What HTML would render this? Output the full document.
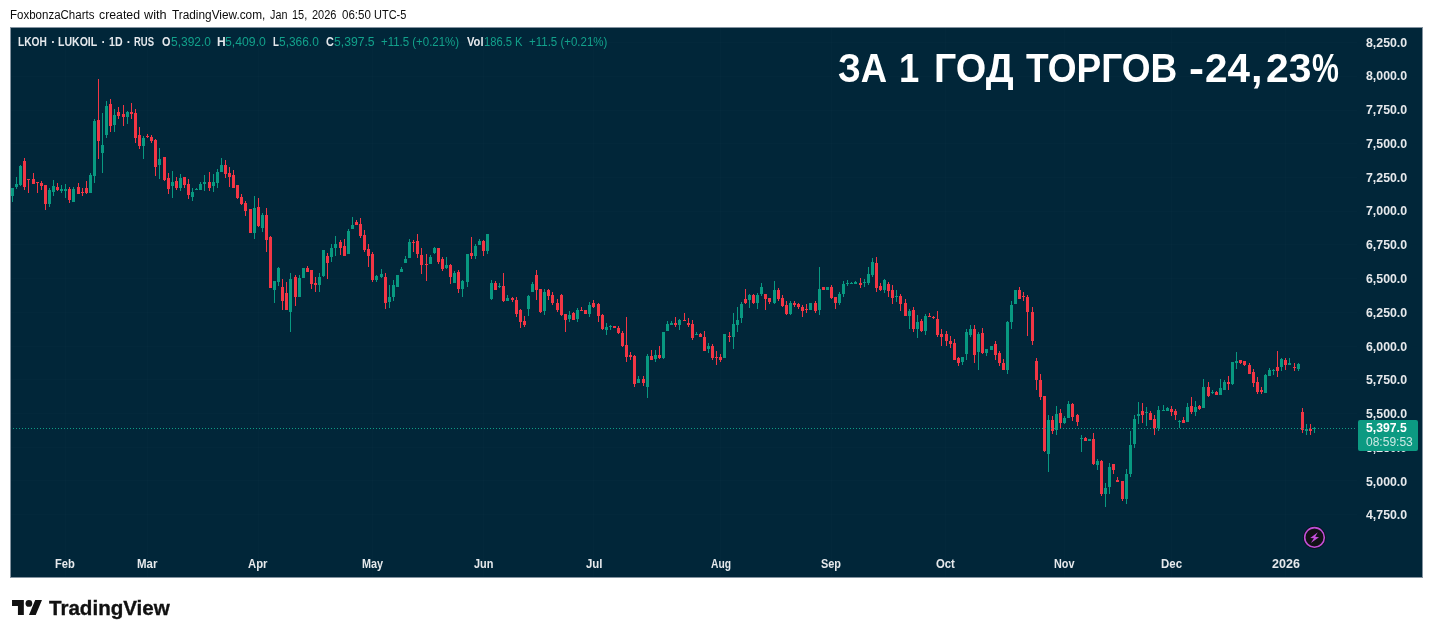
<!DOCTYPE html>
<html lang="en">
<head>
<meta charset="utf-8">
<title>LKOH chart</title>
<style>
html,body{margin:0;padding:0;background:#fff;}
body{width:1433px;height:638px;position:relative;overflow:hidden;font-family:"Liberation Sans",sans-serif;}
.t{position:absolute;white-space:nowrap;line-height:1;transform-origin:0 0;}
.hd{font-size:12px;color:#0c0c0c;}
#chart{position:absolute;left:10px;top:27px;width:1413px;height:551px;box-sizing:border-box;background:#012639;border:1px solid #8493a0;}
#chart svg{position:absolute;left:-1px;top:-1px;}
.w{font-size:12px;color:#e4e8ec;font-weight:bold;}
.g{font-size:12px;color:#12a18b;}
.ax{font-size:12px;font-weight:bold;color:#e6e9ec;}
.ti{font-size:41.4px;font-weight:bold;color:#fff;}
.pl1{font-size:12px;font-weight:bold;color:#fff;z-index:3;}
.pl2{font-size:12px;color:rgba(255,255,255,.78);z-index:3;}
.lt{font-size:20.4px;font-weight:bold;color:#111;-webkit-text-stroke:0.35px #111;}
#plabel{position:absolute;z-index:2;left:1358px;top:420px;width:60px;height:31px;background:#0c9a82;border-radius:2px;}
#logo{position:absolute;left:12px;top:600px;}
</style>
</head>
<body>
<div id="chart">
<svg width="1413" height="551" viewBox="0 0 1413 551" shape-rendering="crispEdges">
<g id="grid" fill="#ffffff" fill-opacity="0.012">
<rect x="55" y="1" width="1" height="549"/><rect x="137" y="1" width="1" height="549"/><rect x="248" y="1" width="1" height="549"/><rect x="362" y="1" width="1" height="549"/><rect x="473" y="1" width="1" height="549"/><rect x="583" y="1" width="1" height="549"/><rect x="710" y="1" width="1" height="549"/><rect x="821" y="1" width="1" height="549"/><rect x="935" y="1" width="1" height="549"/><rect x="1054" y="1" width="1" height="549"/><rect x="1161" y="1" width="1" height="549"/><rect x="1275" y="1" width="1" height="549"/><rect x="1" y="15" width="1346" height="1"/><rect x="1" y="49" width="1346" height="1"/><rect x="1" y="83" width="1346" height="1"/><rect x="1" y="116" width="1346" height="1"/><rect x="1" y="150" width="1346" height="1"/><rect x="1" y="184" width="1346" height="1"/><rect x="1" y="217" width="1346" height="1"/><rect x="1" y="251" width="1346" height="1"/><rect x="1" y="285" width="1346" height="1"/><rect x="1" y="319" width="1346" height="1"/><rect x="1" y="352" width="1346" height="1"/><rect x="1" y="386" width="1346" height="1"/><rect x="1" y="420" width="1346" height="1"/><rect x="1" y="453" width="1346" height="1"/><rect x="1" y="487" width="1346" height="1"/>
</g>
<path fill="#089981" d="M2 161h1v14h-1zM1 161h3v8h-3zM6 150h1v12h-1zM5 157h3v3h-3zM10 138h1v21h-1zM9 139h3v19h-3zM39 161h1v19h-1zM38 163h3v14h-3zM43 153h1v16h-1zM42 159h3v6h-3zM51 158h1v8h-1zM50 162h3v2h-3zM55 157h1v14h-1zM54 162h3v2h-3zM63 160h1v15h-1zM62 162h3v13h-3zM80 146h1v20h-1zM79 148h3v18h-3zM84 92h1v64h-1zM83 94h3v55h-3zM92 86h1v60h-1zM91 118h3v8h-3zM96 74h1v37h-1zM95 79h3v29h-3zM104 82h1v23h-1zM103 88h3v10h-3zM117 84h1v13h-1zM116 85h3v5h-3zM133 109h1v23h-1zM132 111h3v8h-3zM149 121h1v31h-1zM148 132h3v6h-3zM162 144h1v27h-1zM161 155h3v4h-3zM170 147h1v17h-1zM169 151h3v10h-3zM182 161h1v13h-1zM181 165h3v5h-3zM186 161h1v2h-1zM185 162h3v1h-3zM190 155h1v8h-1zM189 157h3v6h-3zM194 148h1v16h-1zM193 155h3v2h-3zM203 147h1v18h-1zM202 155h3v4h-3zM207 142h1v19h-1zM206 145h3v11h-3zM211 131h1v14h-1zM210 138h3v7h-3zM244 169h1v43h-1zM243 181h3v25h-3zM252 186h1v19h-1zM251 188h3v13h-3zM264 254h1v22h-1zM263 254h3v9h-3zM268 240h1v19h-1zM267 241h3v14h-3zM280 246h1v59h-1zM279 252h3v33h-3zM289 248h1v22h-1zM288 251h3v19h-3zM292 241h3v10h-3zM309 246h1v19h-1zM308 250h3v8h-3zM313 223h1v27h-1zM312 223h3v26h-3zM321 217h1v18h-1zM320 221h3v9h-3zM325 209h1v20h-1zM324 217h3v4h-3zM338 202h1v25h-1zM337 204h3v23h-3zM342 190h1v12h-1zM341 198h3v4h-3zM366 248h1v7h-1zM365 249h3v4h-3zM371 242h1v9h-1zM370 247h3v3h-3zM379 258h1v23h-1zM378 270h3v5h-3zM383 253h1v21h-1zM382 258h3v12h-3zM386 248h3v12h-3zM391 240h1v5h-1zM390 242h3v3h-3zM395 229h1v7h-1zM394 232h3v4h-3zM399 212h1v19h-1zM398 215h3v16h-3zM420 228h1v9h-1zM419 230h3v7h-3zM424 220h1v7h-1zM423 221h3v5h-3zM436 230h1v12h-1zM435 238h3v3h-3zM444 244h1v12h-1zM443 246h3v10h-3zM452 253h1v17h-1zM451 254h3v8h-3zM457 227h1v33h-1zM456 227h3v28h-3zM465 217h1v15h-1zM464 219h3v10h-3zM469 212h1v6h-1zM468 214h3v4h-3zM477 207h1v20h-1zM476 207h3v17h-3zM481 253h1v20h-1zM480 256h3v16h-3zM489 256h1v5h-1zM488 259h3v1h-3zM497 268h1v6h-1zM496 271h3v3h-3zM518 268h1v21h-1zM517 269h3v13h-3zM522 255h1v10h-1zM521 257h3v8h-3zM534 262h1v26h-1zM533 265h3v19h-3zM559 284h1v11h-1zM558 288h3v4h-3zM567 281h1v14h-1zM566 283h3v9h-3zM579 275h1v15h-1zM578 278h3v9h-3zM596 296h1v12h-1zM595 300h3v3h-3zM600 298h1v5h-1zM599 299h3v1h-3zM628 349h1v7h-1zM627 352h3v4h-3zM637 327h1v44h-1zM636 329h3v31h-3zM645 323h1v12h-1zM644 328h3v4h-3zM653 305h1v27h-1zM652 305h3v26h-3zM657 294h1v10h-1zM656 297h3v7h-3zM661 294h1v4h-1zM660 296h3v2h-3zM669 292h1v11h-1zM668 293h3v5h-3zM686 305h1v3h-1zM685 307h3v1h-3zM698 316h1v10h-1zM697 319h3v3h-3zM713 307h3v24h-3zM723 286h1v36h-1zM722 297h3v13h-3zM727 280h1v25h-1zM726 293h3v5h-3zM731 275h1v21h-1zM730 277h3v14h-3zM739 267h1v14h-1zM738 268h3v5h-3zM747 266h1v16h-1zM746 268h3v8h-3zM751 256h1v13h-1zM750 260h3v7h-3zM764 254h1v23h-1zM763 263h3v13h-3zM780 274h1v14h-1zM779 276h3v11h-3zM799 276h3v7h-3zM809 240h1v48h-1zM808 262h3v21h-3zM816 260h3v3h-3zM829 265h1v13h-1zM828 267h3v9h-3zM833 254h1v16h-1zM832 257h3v10h-3zM837 253h1v6h-1zM836 256h3v1h-3zM841 255h1v2h-1zM840 256h3v1h-3zM845 254h1v3h-1zM844 255h3v2h-3zM854 252h1v8h-1zM853 255h3v1h-3zM858 240h1v18h-1zM857 247h3v9h-3zM862 231h1v19h-1zM861 235h3v13h-3zM874 252h1v14h-1zM873 253h3v10h-3zM886 263h1v12h-1zM885 269h3v1h-3zM899 282h1v20h-1zM898 284h3v5h-3zM907 288h1v23h-1zM906 295h3v7h-3zM915 287h1v21h-1zM914 289h3v15h-3zM952 330h1v8h-1zM951 330h3v5h-3zM956 302h1v31h-1zM955 305h3v22h-3zM960 298h1v12h-1zM959 302h3v6h-3zM968 305h1v38h-1zM967 307h3v18h-3zM976 322h1v7h-1zM975 322h3v4h-3zM980 319h3v4h-3zM997 294h1v53h-1zM996 295h3v48h-3zM1001 274h1v28h-1zM1000 278h3v17h-3zM1004 263h3v14h-3zM1038 388h1v57h-1zM1037 393h3v34h-3zM1046 379h1v29h-1zM1045 387h3v16h-3zM1054 389h1v8h-1zM1053 391h3v5h-3zM1058 374h1v17h-1zM1057 377h3v14h-3zM1071 408h1v17h-1zM1070 411h3v1h-3zM1078 412h3v2h-3zM1087 432h1v11h-1zM1086 434h3v4h-3zM1095 456h1v24h-1zM1094 461h3v6h-3zM1099 436h1v31h-1zM1098 440h3v20h-3zM1116 442h1v35h-1zM1115 447h3v25h-3zM1120 404h1v46h-1zM1119 418h3v29h-3zM1124 388h1v33h-1zM1123 392h3v25h-3zM1128 375h1v22h-1zM1127 387h3v2h-3zM1136 380h1v19h-1zM1135 385h3v1h-3zM1148 379h1v25h-1zM1147 383h3v18h-3zM1153 378h1v6h-1zM1152 383h3v1h-3zM1157 380h1v4h-1zM1156 381h3v3h-3zM1169 393h1v8h-1zM1168 394h3v1h-3zM1177 376h1v19h-1zM1176 380h3v15h-3zM1185 374h1v15h-1zM1184 380h3v5h-3zM1193 352h1v29h-1zM1192 360h3v21h-3zM1202 363h1v4h-1zM1201 365h3v1h-3zM1210 352h1v16h-1zM1209 361h3v7h-3zM1214 353h1v10h-1zM1213 355h3v8h-3zM1222 335h1v23h-1zM1221 335h3v22h-3zM1226 325h1v17h-1zM1225 334h3v2h-3zM1255 347h1v19h-1zM1254 348h3v18h-3zM1259 341h1v8h-1zM1258 343h3v6h-3zM1263 342h1v6h-1zM1262 343h3v1h-3zM1271 331h1v13h-1zM1270 332h3v8h-3zM1279 331h1v7h-1zM1278 336h3v2h-3zM1288 336h1v8h-1zM1287 337h3v5h-3zM1296 397h1v11h-1zM1295 402h3v2h-3zM1304 400h1v6h-1zM1303 401h3v1h-3z"/><path fill="#f23645" d="M14 131h1v32h-1zM13 134h3v26h-3zM18 152h1v14h-1zM17 152h3v1h-3zM23 146h1v11h-1zM22 152h3v5h-3zM27 155h1v11h-1zM26 155h3v1h-3zM31 154h1v9h-1zM30 156h3v3h-3zM35 158h1v25h-1zM34 158h3v19h-3zM47 156h1v8h-1zM46 160h3v3h-3zM59 160h1v16h-1zM58 162h3v11h-3zM68 156h1v11h-1zM67 160h3v7h-3zM72 161h1v8h-1zM71 165h3v1h-3zM76 154h1v13h-1zM75 161h3v5h-3zM88 52h1v80h-1zM87 93h3v21h-3zM100 72h1v33h-1zM99 77h3v22h-3zM108 80h1v12h-1zM107 85h3v4h-3zM113 78h1v21h-1zM112 87h3v3h-3zM121 76h1v16h-1zM120 85h3v2h-3zM125 82h1v34h-1zM124 86h3v25h-3zM129 100h1v22h-1zM128 108h3v11h-3zM137 107h1v4h-1zM136 109h3v1h-3zM141 108h1v8h-1zM140 110h3v4h-3zM145 112h1v37h-1zM144 113h3v27h-3zM154 130h1v24h-1zM153 130h3v23h-3zM158 146h1v21h-1zM157 151h3v11h-3zM166 150h1v13h-1zM165 154h3v7h-3zM174 150h1v11h-1zM173 150h3v8h-3zM178 152h1v20h-1zM177 157h3v11h-3zM199 145h1v19h-1zM198 155h3v6h-3zM215 133h1v18h-1zM214 138h3v9h-3zM219 140h1v20h-1zM218 146h3v4h-3zM223 143h1v18h-1zM222 148h3v13h-3zM227 158h1v14h-1zM226 158h3v13h-3zM231 167h1v11h-1zM230 170h3v7h-3zM235 174h1v15h-1zM234 176h3v8h-3zM239 182h3v24h-3zM248 171h1v29h-1zM247 180h3v19h-3zM256 181h1v44h-1zM255 188h3v25h-3zM260 209h1v52h-1zM259 210h3v51h-3zM272 252h1v31h-1zM271 260h3v14h-3zM276 255h1v28h-1zM275 266h3v17h-3zM285 248h1v31h-1zM284 250h3v20h-3zM297 239h1v6h-1zM296 241h3v4h-3zM301 243h1v19h-1zM300 243h3v14h-3zM305 250h1v15h-1zM304 256h3v2h-3zM317 226h1v26h-1zM316 229h3v7h-3zM330 213h1v15h-1zM329 215h3v6h-3zM334 212h1v17h-1zM333 219h3v10h-3zM346 193h1v5h-1zM345 195h3v3h-3zM350 191h1v20h-1zM349 197h3v12h-3zM354 203h1v22h-1zM353 208h3v15h-3zM358 217h1v23h-1zM357 222h3v7h-3zM362 225h1v30h-1zM361 227h3v26h-3zM375 246h1v36h-1zM374 250h3v26h-3zM403 213h1v12h-1zM402 215h3v1h-3zM407 207h1v24h-1zM406 214h3v13h-3zM411 221h1v26h-1zM410 228h3v10h-3zM416 227h1v27h-1zM415 237h3v1h-3zM428 221h1v16h-1zM427 221h3v14h-3zM432 230h1v14h-1zM431 232h3v10h-3zM440 237h1v20h-1zM439 238h3v12h-3zM448 243h1v23h-1zM447 245h3v17h-3zM461 210h1v22h-1zM460 226h3v3h-3zM473 213h1v16h-1zM472 214h3v10h-3zM485 254h1v9h-1zM484 256h3v7h-3zM493 246h1v29h-1zM492 259h3v15h-3zM502 270h1v5h-1zM501 271h3v2h-3zM506 270h1v20h-1zM505 273h3v14h-3zM510 282h1v19h-1zM509 283h3v12h-3zM514 289h1v11h-1zM513 294h3v4h-3zM526 243h1v30h-1zM525 248h3v15h-3zM530 262h1v24h-1zM529 262h3v23h-3zM538 262h1v11h-1zM537 263h3v6h-3zM542 265h1v13h-1zM541 268h3v8h-3zM547 272h1v13h-1zM546 276h3v7h-3zM551 267h1v22h-1zM550 268h3v20h-3zM555 287h1v18h-1zM554 287h3v6h-3zM563 285h1v8h-1zM562 286h3v7h-3zM571 280h1v4h-1zM570 283h3v1h-3zM574 283h3v4h-3zM583 273h1v8h-1zM582 276h3v4h-3zM588 276h1v19h-1zM587 277h3v12h-3zM592 287h1v16h-1zM591 288h3v14h-3zM603 299h3v2h-3zM608 299h1v8h-1zM607 301h3v5h-3zM612 304h1v16h-1zM611 306h3v13h-3zM616 290h1v45h-1zM615 318h3v12h-3zM620 325h1v8h-1zM619 328h3v2h-3zM624 328h1v32h-1zM623 329h3v28h-3zM633 349h1v10h-1zM632 352h3v4h-3zM641 323h1v10h-1zM640 329h3v4h-3zM649 319h1v13h-1zM648 328h3v3h-3zM665 290h1v10h-1zM664 296h3v2h-3zM674 286h1v8h-1zM673 293h3v1h-3zM678 291h1v9h-1zM677 296h3v2h-3zM682 293h1v20h-1zM681 297h3v14h-3zM690 306h1v4h-1zM689 307h3v3h-3zM694 304h1v20h-1zM693 310h3v14h-3zM702 317h1v16h-1zM701 319h3v12h-3zM706 324h1v14h-1zM705 330h3v1h-3zM710 327h1v8h-1zM709 330h3v3h-3zM719 305h1v10h-1zM718 309h3v1h-3zM735 262h1v15h-1zM734 272h3v4h-3zM743 267h1v10h-1zM742 268h3v8h-3zM755 267h1v16h-1zM754 267h3v5h-3zM759 271h1v6h-1zM758 271h3v4h-3zM768 261h1v13h-1zM767 263h3v9h-3zM772 268h1v12h-1zM771 271h3v8h-3zM776 274h1v14h-1zM775 278h3v9h-3zM784 274h1v6h-1zM783 276h3v2h-3zM788 276h1v6h-1zM787 277h3v3h-3zM792 278h1v12h-1zM791 280h3v4h-3zM796 277h1v9h-1zM795 282h3v1h-3zM805 274h1v12h-1zM804 276h3v8h-3zM812 260h3v3h-3zM821 258h1v14h-1zM820 260h3v11h-3zM825 270h1v12h-1zM824 270h3v6h-3zM850 251h1v10h-1zM849 256h3v2h-3zM866 230h1v35h-1zM865 236h3v25h-3zM870 256h1v8h-1zM869 259h3v4h-3zM878 255h1v15h-1zM877 257h3v7h-3zM882 258h1v19h-1zM881 263h3v8h-3zM890 267h1v17h-1zM889 269h3v8h-3zM895 272h1v17h-1zM894 276h3v13h-3zM903 280h1v25h-1zM902 283h3v19h-3zM911 292h1v13h-1zM910 294h3v10h-3zM919 286h1v4h-1zM918 289h3v1h-3zM923 289h1v3h-1zM922 290h3v1h-3zM927 284h1v26h-1zM926 292h3v16h-3zM931 302h1v17h-1zM930 307h3v3h-3zM936 304h1v15h-1zM935 307h3v7h-3zM940 309h1v12h-1zM939 314h3v3h-3zM944 312h1v21h-1zM943 316h3v17h-3zM948 330h1v9h-1zM947 331h3v5h-3zM964 298h1v38h-1zM963 302h3v26h-3zM972 301h1v26h-1zM971 306h3v20h-3zM985 314h1v19h-1zM984 317h3v11h-3zM989 324h1v15h-1zM988 326h3v10h-3zM993 332h1v11h-1zM992 336h3v7h-3zM1009 260h1v12h-1zM1008 263h3v9h-3zM1013 265h1v9h-1zM1012 269h3v1h-3zM1017 268h1v41h-1zM1016 270h3v15h-3zM1022 280h1v38h-1zM1021 285h3v29h-3zM1026 331h1v32h-1zM1025 334h3v19h-3zM1030 347h1v26h-1zM1029 353h3v17h-3zM1034 369h1v56h-1zM1033 369h3v55h-3zM1042 389h1v18h-1zM1041 393h3v11h-3zM1050 382h1v19h-1zM1049 386h3v10h-3zM1062 376h1v18h-1zM1061 377h3v13h-3zM1067 387h1v12h-1zM1066 388h3v7h-3zM1075 410h1v4h-1zM1074 411h3v3h-3zM1083 406h1v32h-1zM1082 412h3v25h-3zM1091 433h1v36h-1zM1090 434h3v33h-3zM1103 437h1v10h-1zM1102 437h3v6h-3zM1107 450h1v5h-1zM1106 453h3v2h-3zM1112 454h1v20h-1zM1111 454h3v18h-3zM1132 376h1v20h-1zM1131 384h3v4h-3zM1140 384h1v9h-1zM1139 386h3v7h-3zM1144 388h1v20h-1zM1143 392h3v9h-3zM1161 379h1v10h-1zM1160 382h3v3h-3zM1165 382h1v11h-1zM1164 384h3v4h-3zM1173 390h1v6h-1zM1172 393h3v3h-3zM1181 370h1v17h-1zM1180 379h3v6h-3zM1189 378h1v5h-1zM1188 379h3v3h-3zM1198 355h1v15h-1zM1197 360h3v9h-3zM1206 364h1v4h-1zM1205 365h3v3h-3zM1218 349h1v14h-1zM1217 355h3v2h-3zM1230 333h1v4h-1zM1229 333h3v3h-3zM1234 334h1v5h-1zM1233 334h3v4h-3zM1239 336h1v11h-1zM1238 338h3v9h-3zM1243 342h1v18h-1zM1242 345h3v11h-3zM1247 350h1v17h-1zM1246 355h3v10h-3zM1251 360h1v7h-1zM1250 363h3v2h-3zM1267 324h1v26h-1zM1266 340h3v4h-3zM1275 331h1v12h-1zM1274 333h3v5h-3zM1284 336h1v8h-1zM1283 340h3v1h-3zM1292 381h1v25h-1zM1291 385h3v18h-3zM1300 397h1v11h-1zM1299 402h3v2h-3z"/>
<path fill="#0f9d86" d="M3 401h1v1h-1zM6 401h1v1h-1zM9 401h1v1h-1zM12 401h1v1h-1zM15 401h1v1h-1zM18 401h1v1h-1zM21 401h1v1h-1zM24 401h1v1h-1zM27 401h1v1h-1zM30 401h1v1h-1zM33 401h1v1h-1zM36 401h1v1h-1zM39 401h1v1h-1zM42 401h1v1h-1zM45 401h1v1h-1zM48 401h1v1h-1zM51 401h1v1h-1zM54 401h1v1h-1zM57 401h1v1h-1zM60 401h1v1h-1zM63 401h1v1h-1zM66 401h1v1h-1zM69 401h1v1h-1zM72 401h1v1h-1zM75 401h1v1h-1zM78 401h1v1h-1zM81 401h1v1h-1zM84 401h1v1h-1zM87 401h1v1h-1zM90 401h1v1h-1zM93 401h1v1h-1zM96 401h1v1h-1zM99 401h1v1h-1zM102 401h1v1h-1zM105 401h1v1h-1zM108 401h1v1h-1zM111 401h1v1h-1zM114 401h1v1h-1zM117 401h1v1h-1zM120 401h1v1h-1zM123 401h1v1h-1zM126 401h1v1h-1zM129 401h1v1h-1zM132 401h1v1h-1zM135 401h1v1h-1zM138 401h1v1h-1zM141 401h1v1h-1zM144 401h1v1h-1zM147 401h1v1h-1zM150 401h1v1h-1zM153 401h1v1h-1zM156 401h1v1h-1zM159 401h1v1h-1zM162 401h1v1h-1zM165 401h1v1h-1zM168 401h1v1h-1zM171 401h1v1h-1zM174 401h1v1h-1zM177 401h1v1h-1zM180 401h1v1h-1zM183 401h1v1h-1zM186 401h1v1h-1zM189 401h1v1h-1zM192 401h1v1h-1zM195 401h1v1h-1zM198 401h1v1h-1zM201 401h1v1h-1zM204 401h1v1h-1zM207 401h1v1h-1zM210 401h1v1h-1zM213 401h1v1h-1zM216 401h1v1h-1zM219 401h1v1h-1zM222 401h1v1h-1zM225 401h1v1h-1zM228 401h1v1h-1zM231 401h1v1h-1zM234 401h1v1h-1zM237 401h1v1h-1zM240 401h1v1h-1zM243 401h1v1h-1zM246 401h1v1h-1zM249 401h1v1h-1zM252 401h1v1h-1zM255 401h1v1h-1zM258 401h1v1h-1zM261 401h1v1h-1zM264 401h1v1h-1zM267 401h1v1h-1zM270 401h1v1h-1zM273 401h1v1h-1zM276 401h1v1h-1zM279 401h1v1h-1zM282 401h1v1h-1zM285 401h1v1h-1zM288 401h1v1h-1zM291 401h1v1h-1zM294 401h1v1h-1zM297 401h1v1h-1zM300 401h1v1h-1zM303 401h1v1h-1zM306 401h1v1h-1zM309 401h1v1h-1zM312 401h1v1h-1zM315 401h1v1h-1zM318 401h1v1h-1zM321 401h1v1h-1zM324 401h1v1h-1zM327 401h1v1h-1zM330 401h1v1h-1zM333 401h1v1h-1zM336 401h1v1h-1zM339 401h1v1h-1zM342 401h1v1h-1zM345 401h1v1h-1zM348 401h1v1h-1zM351 401h1v1h-1zM354 401h1v1h-1zM357 401h1v1h-1zM360 401h1v1h-1zM363 401h1v1h-1zM366 401h1v1h-1zM369 401h1v1h-1zM372 401h1v1h-1zM375 401h1v1h-1zM378 401h1v1h-1zM381 401h1v1h-1zM384 401h1v1h-1zM387 401h1v1h-1zM390 401h1v1h-1zM393 401h1v1h-1zM396 401h1v1h-1zM399 401h1v1h-1zM402 401h1v1h-1zM405 401h1v1h-1zM408 401h1v1h-1zM411 401h1v1h-1zM414 401h1v1h-1zM417 401h1v1h-1zM420 401h1v1h-1zM423 401h1v1h-1zM426 401h1v1h-1zM429 401h1v1h-1zM432 401h1v1h-1zM435 401h1v1h-1zM438 401h1v1h-1zM441 401h1v1h-1zM444 401h1v1h-1zM447 401h1v1h-1zM450 401h1v1h-1zM453 401h1v1h-1zM456 401h1v1h-1zM459 401h1v1h-1zM462 401h1v1h-1zM465 401h1v1h-1zM468 401h1v1h-1zM471 401h1v1h-1zM474 401h1v1h-1zM477 401h1v1h-1zM480 401h1v1h-1zM483 401h1v1h-1zM486 401h1v1h-1zM489 401h1v1h-1zM492 401h1v1h-1zM495 401h1v1h-1zM498 401h1v1h-1zM501 401h1v1h-1zM504 401h1v1h-1zM507 401h1v1h-1zM510 401h1v1h-1zM513 401h1v1h-1zM516 401h1v1h-1zM519 401h1v1h-1zM522 401h1v1h-1zM525 401h1v1h-1zM528 401h1v1h-1zM531 401h1v1h-1zM534 401h1v1h-1zM537 401h1v1h-1zM540 401h1v1h-1zM543 401h1v1h-1zM546 401h1v1h-1zM549 401h1v1h-1zM552 401h1v1h-1zM555 401h1v1h-1zM558 401h1v1h-1zM561 401h1v1h-1zM564 401h1v1h-1zM567 401h1v1h-1zM570 401h1v1h-1zM573 401h1v1h-1zM576 401h1v1h-1zM579 401h1v1h-1zM582 401h1v1h-1zM585 401h1v1h-1zM588 401h1v1h-1zM591 401h1v1h-1zM594 401h1v1h-1zM597 401h1v1h-1zM600 401h1v1h-1zM603 401h1v1h-1zM606 401h1v1h-1zM609 401h1v1h-1zM612 401h1v1h-1zM615 401h1v1h-1zM618 401h1v1h-1zM621 401h1v1h-1zM624 401h1v1h-1zM627 401h1v1h-1zM630 401h1v1h-1zM633 401h1v1h-1zM636 401h1v1h-1zM639 401h1v1h-1zM642 401h1v1h-1zM645 401h1v1h-1zM648 401h1v1h-1zM651 401h1v1h-1zM654 401h1v1h-1zM657 401h1v1h-1zM660 401h1v1h-1zM663 401h1v1h-1zM666 401h1v1h-1zM669 401h1v1h-1zM672 401h1v1h-1zM675 401h1v1h-1zM678 401h1v1h-1zM681 401h1v1h-1zM684 401h1v1h-1zM687 401h1v1h-1zM690 401h1v1h-1zM693 401h1v1h-1zM696 401h1v1h-1zM699 401h1v1h-1zM702 401h1v1h-1zM705 401h1v1h-1zM708 401h1v1h-1zM711 401h1v1h-1zM714 401h1v1h-1zM717 401h1v1h-1zM720 401h1v1h-1zM723 401h1v1h-1zM726 401h1v1h-1zM729 401h1v1h-1zM732 401h1v1h-1zM735 401h1v1h-1zM738 401h1v1h-1zM741 401h1v1h-1zM744 401h1v1h-1zM747 401h1v1h-1zM750 401h1v1h-1zM753 401h1v1h-1zM756 401h1v1h-1zM759 401h1v1h-1zM762 401h1v1h-1zM765 401h1v1h-1zM768 401h1v1h-1zM771 401h1v1h-1zM774 401h1v1h-1zM777 401h1v1h-1zM780 401h1v1h-1zM783 401h1v1h-1zM786 401h1v1h-1zM789 401h1v1h-1zM792 401h1v1h-1zM795 401h1v1h-1zM798 401h1v1h-1zM801 401h1v1h-1zM804 401h1v1h-1zM807 401h1v1h-1zM810 401h1v1h-1zM813 401h1v1h-1zM816 401h1v1h-1zM819 401h1v1h-1zM822 401h1v1h-1zM825 401h1v1h-1zM828 401h1v1h-1zM831 401h1v1h-1zM834 401h1v1h-1zM837 401h1v1h-1zM840 401h1v1h-1zM843 401h1v1h-1zM846 401h1v1h-1zM849 401h1v1h-1zM852 401h1v1h-1zM855 401h1v1h-1zM858 401h1v1h-1zM861 401h1v1h-1zM864 401h1v1h-1zM867 401h1v1h-1zM870 401h1v1h-1zM873 401h1v1h-1zM876 401h1v1h-1zM879 401h1v1h-1zM882 401h1v1h-1zM885 401h1v1h-1zM888 401h1v1h-1zM891 401h1v1h-1zM894 401h1v1h-1zM897 401h1v1h-1zM900 401h1v1h-1zM903 401h1v1h-1zM906 401h1v1h-1zM909 401h1v1h-1zM912 401h1v1h-1zM915 401h1v1h-1zM918 401h1v1h-1zM921 401h1v1h-1zM924 401h1v1h-1zM927 401h1v1h-1zM930 401h1v1h-1zM933 401h1v1h-1zM936 401h1v1h-1zM939 401h1v1h-1zM942 401h1v1h-1zM945 401h1v1h-1zM948 401h1v1h-1zM951 401h1v1h-1zM954 401h1v1h-1zM957 401h1v1h-1zM960 401h1v1h-1zM963 401h1v1h-1zM966 401h1v1h-1zM969 401h1v1h-1zM972 401h1v1h-1zM975 401h1v1h-1zM978 401h1v1h-1zM981 401h1v1h-1zM984 401h1v1h-1zM987 401h1v1h-1zM990 401h1v1h-1zM993 401h1v1h-1zM996 401h1v1h-1zM999 401h1v1h-1zM1002 401h1v1h-1zM1005 401h1v1h-1zM1008 401h1v1h-1zM1011 401h1v1h-1zM1014 401h1v1h-1zM1017 401h1v1h-1zM1020 401h1v1h-1zM1023 401h1v1h-1zM1026 401h1v1h-1zM1029 401h1v1h-1zM1032 401h1v1h-1zM1035 401h1v1h-1zM1038 401h1v1h-1zM1041 401h1v1h-1zM1044 401h1v1h-1zM1047 401h1v1h-1zM1050 401h1v1h-1zM1053 401h1v1h-1zM1056 401h1v1h-1zM1059 401h1v1h-1zM1062 401h1v1h-1zM1065 401h1v1h-1zM1068 401h1v1h-1zM1071 401h1v1h-1zM1074 401h1v1h-1zM1077 401h1v1h-1zM1080 401h1v1h-1zM1083 401h1v1h-1zM1086 401h1v1h-1zM1089 401h1v1h-1zM1092 401h1v1h-1zM1095 401h1v1h-1zM1098 401h1v1h-1zM1101 401h1v1h-1zM1104 401h1v1h-1zM1107 401h1v1h-1zM1110 401h1v1h-1zM1113 401h1v1h-1zM1116 401h1v1h-1zM1119 401h1v1h-1zM1122 401h1v1h-1zM1125 401h1v1h-1zM1128 401h1v1h-1zM1131 401h1v1h-1zM1134 401h1v1h-1zM1137 401h1v1h-1zM1140 401h1v1h-1zM1143 401h1v1h-1zM1146 401h1v1h-1zM1149 401h1v1h-1zM1152 401h1v1h-1zM1155 401h1v1h-1zM1158 401h1v1h-1zM1161 401h1v1h-1zM1164 401h1v1h-1zM1167 401h1v1h-1zM1170 401h1v1h-1zM1173 401h1v1h-1zM1176 401h1v1h-1zM1179 401h1v1h-1zM1182 401h1v1h-1zM1185 401h1v1h-1zM1188 401h1v1h-1zM1191 401h1v1h-1zM1194 401h1v1h-1zM1197 401h1v1h-1zM1200 401h1v1h-1zM1203 401h1v1h-1zM1206 401h1v1h-1zM1209 401h1v1h-1zM1212 401h1v1h-1zM1215 401h1v1h-1zM1218 401h1v1h-1zM1221 401h1v1h-1zM1224 401h1v1h-1zM1227 401h1v1h-1zM1230 401h1v1h-1zM1233 401h1v1h-1zM1236 401h1v1h-1zM1239 401h1v1h-1zM1242 401h1v1h-1zM1245 401h1v1h-1zM1248 401h1v1h-1zM1251 401h1v1h-1zM1254 401h1v1h-1zM1257 401h1v1h-1zM1260 401h1v1h-1zM1263 401h1v1h-1zM1266 401h1v1h-1zM1269 401h1v1h-1zM1272 401h1v1h-1zM1275 401h1v1h-1zM1278 401h1v1h-1zM1281 401h1v1h-1zM1284 401h1v1h-1zM1287 401h1v1h-1zM1290 401h1v1h-1zM1293 401h1v1h-1zM1296 401h1v1h-1zM1299 401h1v1h-1zM1302 401h1v1h-1zM1305 401h1v1h-1zM1308 401h1v1h-1zM1311 401h1v1h-1zM1314 401h1v1h-1zM1317 401h1v1h-1zM1320 401h1v1h-1zM1323 401h1v1h-1zM1326 401h1v1h-1zM1329 401h1v1h-1zM1332 401h1v1h-1zM1335 401h1v1h-1zM1338 401h1v1h-1zM1341 401h1v1h-1zM1344 401h1v1h-1z"/>
</svg>
</div>
<div id="plabel"></div>
<div id="header">
<span class="t hd" style="left:10.29px;top:9px;transform:scaleX(0.9592)">FoxbonzaCharts</span>
<span class="t hd" style="left:99.28px;top:9px;transform:scaleX(1.0235)">created</span>
<span class="t hd" style="left:144.23px;top:9px;transform:scaleX(1.0601)">with</span>
<span class="t hd" style="left:172.17px;top:9px;transform:scaleX(0.9851)">TradingView.com,</span>
<span class="t hd" style="left:270.26px;top:9px;transform:scaleX(0.8989)">Jan</span>
<span class="t hd" style="left:292.04px;top:9px;transform:scaleX(0.9149)">15,</span>
<span class="t hd" style="left:312.37px;top:9px;transform:scaleX(0.9171)">2026</span>
<span class="t hd" style="left:341.56px;top:9px;transform:scaleX(0.9632)">06:50</span>
<span class="t hd" style="left:374.13px;top:9px;transform:scaleX(0.9150)">UTC-5</span>
</div>
<div id="legend">
<span class="t w" style="left:18.27px;top:36px;transform:scaleX(0.8508)">LKOH</span>
<span class="t w" style="left:51.32px;top:36px;transform:scaleX(1.0000)">·</span>
<span class="t w" style="left:58.45px;top:36px;transform:scaleX(0.8786)">LUKOIL</span>
<span class="t w" style="left:101.62px;top:36px;transform:scaleX(1.0000)">·</span>
<span class="t w" style="left:109.19px;top:36px;transform:scaleX(0.8831)">1D</span>
<span class="t w" style="left:126.82px;top:36px;transform:scaleX(1.0000)">·</span>
<span class="t w" style="left:134.22px;top:36px;transform:scaleX(0.7922)">RUS</span>
<span class="t w" style="left:161.56px;top:36px;transform:scaleX(0.9059)">O</span>
<span class="t g" style="left:170.51px;top:36px;transform:scaleX(0.9967)">5,392.0</span>
<span class="t w" style="left:216.85px;top:36px;transform:scaleX(1.0010)">H</span>
<span class="t g" style="left:225.29px;top:36px;transform:scaleX(1.0199)">5,409.0</span>
<span class="t w" style="left:272.91px;top:36px;transform:scaleX(0.8030)">L</span>
<span class="t g" style="left:279.31px;top:36px;transform:scaleX(0.9941)">5,366.0</span>
<span class="t w" style="left:326.26px;top:36px;transform:scaleX(0.9077)">C</span>
<span class="t g" style="left:333.90px;top:36px;transform:scaleX(1.0142)">5,397.5</span>
<span class="t g" style="left:381.38px;top:36px;transform:scaleX(0.9540)">+11.5 (+0.21%)</span>
<span class="t w" style="left:467.40px;top:36px;transform:scaleX(0.9306)">Vol</span>
<span class="t g" style="left:483.62px;top:36px;transform:scaleX(0.9329)">186.5 K</span>
<span class="t g" style="left:529.28px;top:36px;transform:scaleX(0.9577)">+11.5 (+0.21%)</span>
</div>
<div id="price-axis">
<span class="t ax" style="left:1366.14px;top:37px;transform:scaleX(1.0270)">8,250.0</span>
<span class="t ax" style="left:1366.14px;top:70px;transform:scaleX(1.0270)">8,000.0</span>
<span class="t ax" style="left:1366.14px;top:104px;transform:scaleX(1.0270)">7,750.0</span>
<span class="t ax" style="left:1366.14px;top:138px;transform:scaleX(1.0270)">7,500.0</span>
<span class="t ax" style="left:1366.14px;top:172px;transform:scaleX(1.0270)">7,250.0</span>
<span class="t ax" style="left:1366.14px;top:205px;transform:scaleX(1.0270)">7,000.0</span>
<span class="t ax" style="left:1366.14px;top:239px;transform:scaleX(1.0270)">6,750.0</span>
<span class="t ax" style="left:1366.14px;top:273px;transform:scaleX(1.0270)">6,500.0</span>
<span class="t ax" style="left:1366.14px;top:307px;transform:scaleX(1.0270)">6,250.0</span>
<span class="t ax" style="left:1366.14px;top:341px;transform:scaleX(1.0270)">6,000.0</span>
<span class="t ax" style="left:1366.14px;top:374px;transform:scaleX(1.0270)">5,750.0</span>
<span class="t ax" style="left:1366.14px;top:408px;transform:scaleX(1.0270)">5,500.0</span>
<span class="t ax" style="left:1366.14px;top:442px;transform:scaleX(1.0270)">5,250.0</span>
<span class="t ax" style="left:1366.14px;top:476px;transform:scaleX(1.0270)">5,000.0</span>
<span class="t ax" style="left:1366.14px;top:509px;transform:scaleX(1.0270)">4,750.0</span>
</div>
<div id="time-axis">
<span class="t ax" style="left:55.36px;top:558px;transform:scaleX(0.9277)">Feb</span>
<span class="t ax" style="left:136.74px;top:558px;transform:scaleX(0.9565)">Mar</span>
<span class="t ax" style="left:248.30px;top:558px;transform:scaleX(0.9425)">Apr</span>
<span class="t ax" style="left:361.93px;top:558px;transform:scaleX(0.9042)">May</span>
<span class="t ax" style="left:473.81px;top:558px;transform:scaleX(0.9080)">Jun</span>
<span class="t ax" style="left:585.99px;top:558px;transform:scaleX(0.9536)">Jul</span>
<span class="t ax" style="left:711.04px;top:558px;transform:scaleX(0.8562)">Aug</span>
<span class="t ax" style="left:821.25px;top:558px;transform:scaleX(0.9092)">Sep</span>
<span class="t ax" style="left:936.49px;top:558px;transform:scaleX(0.9445)">Oct</span>
<span class="t ax" style="left:1054.08px;top:558px;transform:scaleX(0.9028)">Nov</span>
<span class="t ax" style="left:1160.64px;top:558px;transform:scaleX(0.9554)">Dec</span>
<span class="t ax" style="left:1272.20px;top:558px;transform:scaleX(1.0431)">2026</span>
</div>
<div id="title">
<span class="t ti" style="left:838.23px;top:47.95px;transform:scaleX(0.8805)">ЗА</span>
<span class="t ti" style="left:898.51px;top:47.95px;transform:scaleX(0.8800)">1</span>
<span class="t ti" style="left:934.13px;top:47.95px;transform:scaleX(0.9476)">ГОД</span>
<span class="t ti" style="left:1025.82px;top:47.95px;transform:scaleX(0.8941)">ТОРГОВ</span>
<span class="t ti" style="left:1188.59px;top:47.95px;transform:scaleX(1.0899)">-</span>
<span class="t ti" style="left:1204.74px;top:47.95px;transform:scaleX(0.9757)">24</span>
<span class="t ti" style="left:1251.07px;top:47.95px;transform:scaleX(1.0000)">,</span>
<span class="t ti" style="left:1266.12px;top:47.95px;transform:scaleX(0.9868)">23</span>
<span class="t ti" style="left:1312.37px;top:47.95px;transform:scaleX(0.7303)">%</span>
</div>
<div id="last-price">
<span class="t pl1" style="left:1366.09px;top:422px;transform:scaleX(1.0175)">5,397.5</span>
<span class="t pl2" style="left:1366.24px;top:436px;transform:scaleX(1.0014)">08:59:53</span>
</div>
<div id="brand">
<span class="t lt" style="left:48.74px;top:597.73px;transform:scaleX(1.0087)">TradingView</span>
</div>
<svg style="position:absolute;left:1303px;top:526px" width="23" height="23" viewBox="0 0 23 23">
<circle cx="11.5" cy="11.4" r="11.3" fill="#0a0f17"/>
<circle cx="11.5" cy="11.4" r="9.8" fill="#121216" stroke="#c04fd6" stroke-width="1.6"/>
<path d="M14.8 6.2 L7.27 11.91 L10.96 12.35 L7.82 16.97 L16.01 11.14 L12.22 10.76 Z" fill="#c44fdb"/>
</svg>
<svg id="logo" width="30" height="15.2" viewBox="0 4 35.5 18"><path fill="#111" d="M14 22H7V11H0V4h14v18zM28 22h-8l7.5-18h8L28 22z"/><circle fill="#111" cx="20" cy="8" r="4"/></svg>
</body>
</html>
